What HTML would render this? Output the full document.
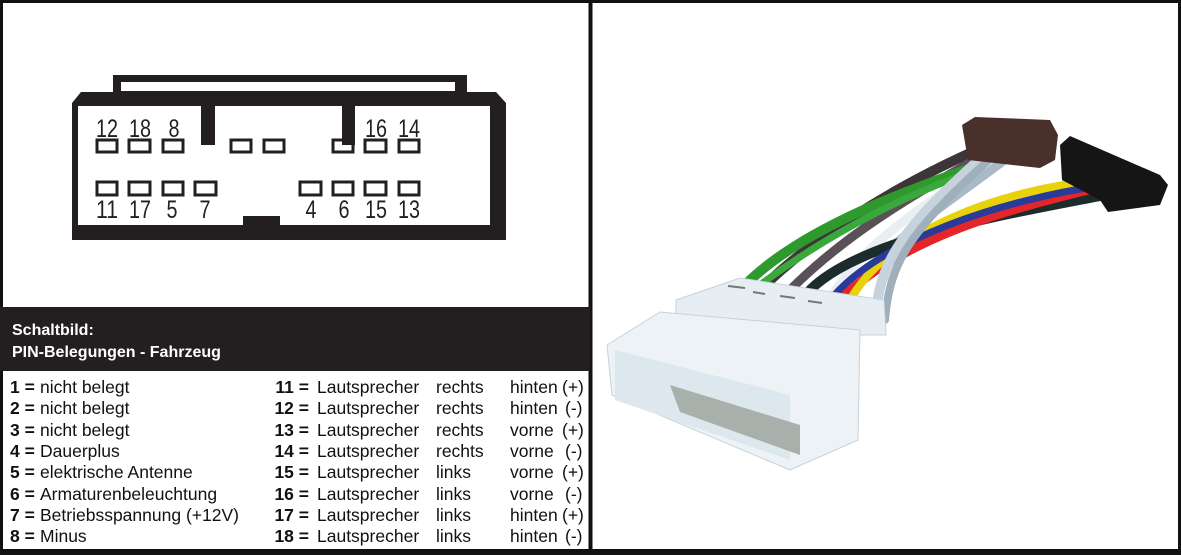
<!DOCTYPE html>
<html><head><meta charset="utf-8"><style>
html,body{margin:0;padding:0;background:#fff}
body{width:1181px;height:555px;position:relative;overflow:hidden;font-family:"Liberation Sans",sans-serif}
.t{position:absolute;font-size:17.5px;color:#111;white-space:nowrap;line-height:21px}
</style></head><body>
<svg width="1181" height="555" style="position:absolute;left:0;top:0">
<rect x="1.5" y="1.5" width="1178" height="551" fill="none" stroke="#111" stroke-width="3"/>
<rect x="588.5" y="0" width="4" height="555" fill="#111"/>
<rect x="0" y="307" width="590" height="64" fill="#231f20"/>
<rect x="0" y="549" width="1181" height="6" fill="#111"/>
<rect x="113" y="75" width="354" height="20" fill="#231f20"/>
<rect x="121" y="82" width="334" height="9" fill="#fff"/>
<polygon points="72,103 81,92 496,92 506,103 506,240 72,240" fill="#231f20"/>
<rect x="78" y="106" width="412" height="119" fill="#fff"/>
<rect x="201" y="106" width="14" height="39" fill="#231f20"/>
<rect x="342" y="106" width="13" height="39" fill="#231f20"/>
<rect x="243" y="216" width="37" height="10" fill="#231f20"/>
<g fill="none" stroke="#231f20" stroke-width="3">
<rect x="97" y="140" width="20" height="12"/><rect x="129" y="140" width="21" height="12"/><rect x="163" y="140" width="20" height="12"/>
<rect x="231" y="140" width="20" height="12"/><rect x="264" y="140" width="20" height="12"/>
<rect x="333" y="140" width="20" height="12"/><rect x="365" y="140" width="21" height="12"/><rect x="399" y="140" width="20" height="12"/>
<rect x="97" y="182" width="20" height="13"/><rect x="129" y="182" width="21" height="13"/><rect x="163" y="182" width="20" height="13"/><rect x="195" y="182" width="21" height="13"/>
<rect x="300" y="182" width="21" height="13"/><rect x="333" y="182" width="20" height="13"/><rect x="365" y="182" width="21" height="13"/><rect x="399" y="182" width="20" height="13"/>
</g>
<g font-family="Liberation Sans, sans-serif" font-size="25" fill="#231f20" text-anchor="middle">
<text x="107" y="137" textLength="22" lengthAdjust="spacingAndGlyphs">12</text><text x="140" y="137" textLength="22" lengthAdjust="spacingAndGlyphs">18</text><text x="174" y="137" textLength="11" lengthAdjust="spacingAndGlyphs">8</text>
<text x="376" y="137" textLength="22" lengthAdjust="spacingAndGlyphs">16</text><text x="409" y="137" textLength="22" lengthAdjust="spacingAndGlyphs">14</text>
<text x="107" y="218" textLength="22" lengthAdjust="spacingAndGlyphs">11</text><text x="140" y="218" textLength="22" lengthAdjust="spacingAndGlyphs">17</text><text x="172" y="218" textLength="11" lengthAdjust="spacingAndGlyphs">5</text><text x="205" y="218" textLength="11" lengthAdjust="spacingAndGlyphs">7</text>
<text x="311" y="218" textLength="11" lengthAdjust="spacingAndGlyphs">4</text><text x="344" y="218" textLength="11" lengthAdjust="spacingAndGlyphs">6</text><text x="376" y="218" textLength="22" lengthAdjust="spacingAndGlyphs">15</text><text x="409" y="218" textLength="22" lengthAdjust="spacingAndGlyphs">13</text>
</g>
<!-- photo -->
<g fill="none" stroke-linecap="round">
<path d="M760,290 C800,250 880,190 1000,140" stroke="#3d3538" stroke-width="10"/>
<path d="M790,290 C840,240 900,200 1020,135" stroke="#5a5058" stroke-width="9"/>
<path d="M745,285 C800,230 900,190 1040,145" stroke="#2e9a2e" stroke-width="10"/>
<path d="M760,285 C820,240 920,180 1045,150" stroke="#3aa83a" stroke-width="7"/>
<path d="M830,300 C860,240 950,190 1020,140" stroke="#e8eef2" stroke-width="9"/>
<path d="M850,300 C880,240 970,190 1030,140" stroke="#a7bac6" stroke-width="9"/>
<path d="M810,290 C860,240 1000,215 1105,195" stroke="#1c2b2b" stroke-width="10"/>
<path d="M840,300 C900,240 1000,210 1110,185" stroke="#e4262a" stroke-width="9"/>
<path d="M850,300 C890,230 1000,190 1100,180" stroke="#e8d20a" stroke-width="8"/>
<path d="M830,300 C880,240 1000,200 1105,185" stroke="#2a3a9a" stroke-width="7"/>
<path d="M875,320 C880,260 900,230 990,150" stroke="#c6d2dc" stroke-width="10"/>
<path d="M885,320 C890,260 910,230 1000,150" stroke="#9fb0bc" stroke-width="8"/>
</g>
<polygon points="962,125 975,117 1050,120 1058,135 1055,160 1040,168 968,160" fill="#4a302a"/>
<polygon points="1060,145 1070,136 1160,175 1168,185 1160,205 1108,212 1100,200 1062,180" fill="#151515"/>
<polygon points="676,300 740,278 884,300 886,335 800,335 676,318" fill="#e6eef3" stroke="#c5d2da"/>
<g stroke="#777" stroke-width="2"><line x1="728" y1="286" x2="745" y2="288"/><line x1="753" y1="292" x2="765" y2="294"/><line x1="780" y1="296" x2="795" y2="298"/><line x1="808" y1="301" x2="822" y2="303"/></g>
<polygon points="607,345 660,312 860,330 858,440 790,470 612,395" fill="#edf2f6" stroke="#c5d2da"/>
<polygon points="615,350 790,395 790,460 615,400" fill="#dde7ee"/>
<polygon points="670,385 800,425 800,455 680,412" fill="#a8b0ab"/>
</svg>
<div class="t" style="left:12px;top:320px;color:#fff;font-size:16px;font-weight:bold">Schaltbild:</div>
<div class="t" style="left:12px;top:342px;color:#fff;font-size:16px;font-weight:bold">PIN-Belegungen - Fahrzeug</div>
<div style="position:absolute;left:0;top:377px">
<div class="t" style="left:10px;top:0"><b>1 =</b></div><div class="t" style="left:40px;top:0">nicht belegt</div>
<div class="t" style="left:10px;top:21.3px"><b>2 =</b></div><div class="t" style="left:40px;top:21.3px">nicht belegt</div>
<div class="t" style="left:10px;top:42.6px"><b>3 =</b></div><div class="t" style="left:40px;top:42.6px">nicht belegt</div>
<div class="t" style="left:10px;top:63.9px"><b>4 =</b></div><div class="t" style="left:40px;top:63.9px">Dauerplus</div>
<div class="t" style="left:10px;top:85.2px"><b>5 =</b></div><div class="t" style="left:40px;top:85.2px">elektrische Antenne</div>
<div class="t" style="left:10px;top:106.5px"><b>6 =</b></div><div class="t" style="left:40px;top:106.5px">Armaturenbeleuchtung</div>
<div class="t" style="left:10px;top:127.8px"><b>7 =</b></div><div class="t" style="left:40px;top:127.8px">Betriebsspannung (+12V)</div>
<div class="t" style="left:10px;top:149.1px"><b>8 =</b></div><div class="t" style="left:40px;top:149.1px">Minus</div>

<div class="t" style="left:243px;top:0;width:66px;text-align:right"><b>11 =</b></div><div class="t" style="left:317px;top:0">Lautsprecher</div><div class="t" style="left:436px;top:0">rechts</div><div class="t" style="left:510px;top:0">hinten</div><div class="t" style="left:562px;top:0">(+)</div>
<div class="t" style="left:243px;top:21.3px;width:66px;text-align:right"><b>12 =</b></div><div class="t" style="left:317px;top:21.3px">Lautsprecher</div><div class="t" style="left:436px;top:21.3px">rechts</div><div class="t" style="left:510px;top:21.3px">hinten</div><div class="t" style="left:565px;top:21.3px">(-)</div>
<div class="t" style="left:243px;top:42.6px;width:66px;text-align:right"><b>13 =</b></div><div class="t" style="left:317px;top:42.6px">Lautsprecher</div><div class="t" style="left:436px;top:42.6px">rechts</div><div class="t" style="left:510px;top:42.6px">vorne</div><div class="t" style="left:562px;top:42.6px">(+)</div>
<div class="t" style="left:243px;top:63.9px;width:66px;text-align:right"><b>14 =</b></div><div class="t" style="left:317px;top:63.9px">Lautsprecher</div><div class="t" style="left:436px;top:63.9px">rechts</div><div class="t" style="left:510px;top:63.9px">vorne</div><div class="t" style="left:565px;top:63.9px">(-)</div>
<div class="t" style="left:243px;top:85.2px;width:66px;text-align:right"><b>15 =</b></div><div class="t" style="left:317px;top:85.2px">Lautsprecher</div><div class="t" style="left:436px;top:85.2px">links</div><div class="t" style="left:510px;top:85.2px">vorne</div><div class="t" style="left:562px;top:85.2px">(+)</div>
<div class="t" style="left:243px;top:106.5px;width:66px;text-align:right"><b>16 =</b></div><div class="t" style="left:317px;top:106.5px">Lautsprecher</div><div class="t" style="left:436px;top:106.5px">links</div><div class="t" style="left:510px;top:106.5px">vorne</div><div class="t" style="left:565px;top:106.5px">(-)</div>
<div class="t" style="left:243px;top:127.8px;width:66px;text-align:right"><b>17 =</b></div><div class="t" style="left:317px;top:127.8px">Lautsprecher</div><div class="t" style="left:436px;top:127.8px">links</div><div class="t" style="left:510px;top:127.8px">hinten</div><div class="t" style="left:562px;top:127.8px">(+)</div>
<div class="t" style="left:243px;top:149.1px;width:66px;text-align:right"><b>18 =</b></div><div class="t" style="left:317px;top:149.1px">Lautsprecher</div><div class="t" style="left:436px;top:149.1px">links</div><div class="t" style="left:510px;top:149.1px">hinten</div><div class="t" style="left:565px;top:149.1px">(-)</div>
</div>
</body></html>
